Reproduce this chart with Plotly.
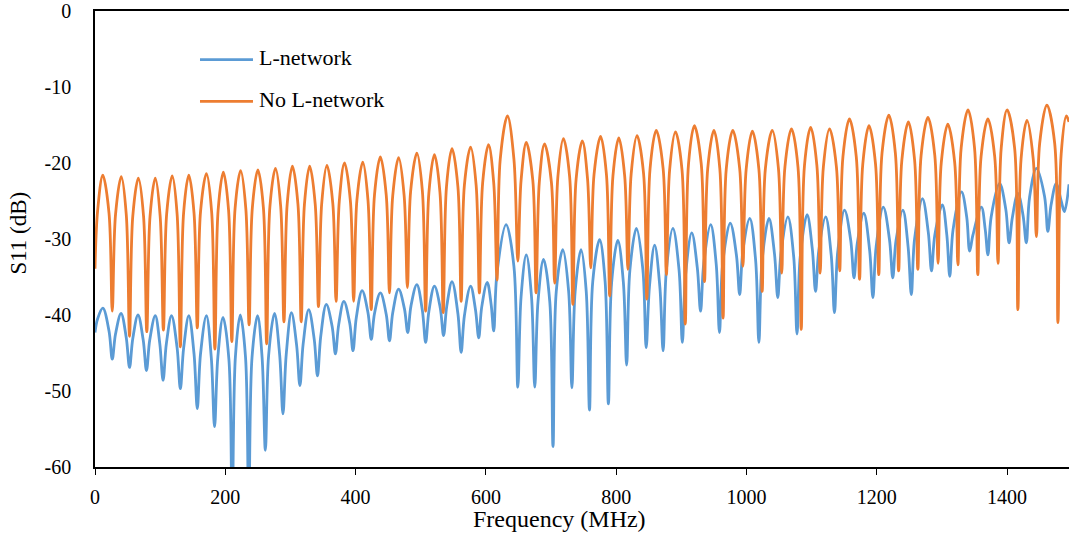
import plotly.graph_objects as go

# S11 sweep without matching network: dips, arc shoulders and peaks, one arc per line
nol_freq = [
    0, 4, 12, 21.5,
    26.5, 31.5, 40.3, 48,
    53, 58, 66.5, 74.5,
    79.5, 84.5, 92.5, 100,
    105, 110, 118.5, 126,
    131, 136, 144, 152,
    157, 162, 171, 179,
    184, 189, 197, 205,
    210, 215, 223.5, 231.5,
    236.5, 241.5, 250, 258.5,
    263.5, 268.5, 277, 285,
    290, 295, 303, 311.5,
    316.5, 321.5, 329.5, 338,
    343, 348, 356, 365,
    370, 375, 383, 392,
    397, 402, 411, 419,
    424, 429, 438, 447,
    452, 457, 466, 474.5,
    479.5, 484.5, 494, 502.5,
    507.5, 512.5, 521, 529.5,
    534.5, 539.5, 548, 557,
    562, 567, 576.5, 585,
    590, 595, 604, 612,
    617, 622, 633, 643,
    649, 654, 662, 672,
    677, 682, 690, 700.5,
    705.5, 710.5, 719, 728.5,
    733.5, 738.5, 748, 756,
    761, 766, 776, 785,
    790, 795, 804, 813,
    818, 823, 832, 842,
    847, 852, 861.5, 872,
    877, 882, 891, 901,
    906, 911, 920, 930.5,
    935.5, 940.5, 950, 959,
    964, 969, 979, 989.5,
    994.5, 999.5, 1009, 1019,
    1024, 1029, 1039.5, 1049,
    1054, 1059, 1069, 1079,
    1084, 1089, 1098.5, 1108,
    1113, 1118, 1127.5, 1138,
    1143, 1148, 1158, 1168.5,
    1173.5, 1178.5, 1188, 1198,
    1203, 1208, 1218.5, 1228.5,
    1233.5, 1238.5, 1248.5, 1258,
    1263, 1268, 1278.5, 1289,
    1294, 1299, 1309, 1319.5,
    1324.5, 1329.5, 1340, 1350,
    1355, 1360, 1370.5, 1381,
    1386, 1391, 1400, 1411.5,
    1416.5, 1421.5, 1430.5, 1440,
    1445, 1450, 1461, 1473,
    1478, 1483, 1491, 1495,
]
nol_s11 = [
    -33.9, -26.3, -21.6, -26.6,
    -39.5, -26.8, -21.8, -26.8,
    -42.8, -27.0, -22.0, -27.0,
    -42.2, -27.0, -22.0, -27.0,
    -42.0, -26.7, -21.7, -26.7,
    -44.2, -26.6, -21.6, -26.6,
    -41.7, -26.4, -21.4, -26.4,
    -44.5, -26.2, -21.2, -26.2,
    -43.5, -26.0, -21.0, -26.0,
    -41.3, -25.9, -20.9, -25.9,
    -43.8, -25.7, -20.7, -25.7,
    -40.9, -25.4, -20.4, -25.4,
    -40.9, -25.4, -20.4, -25.4,
    -38.9, -25.3, -20.3, -25.3,
    -38.2, -25.0, -20.0, -25.0,
    -38.2, -24.9, -19.9, -24.9,
    -39.3, -24.2, -19.2, -24.2,
    -37.1, -24.3, -19.3, -24.3,
    -36.4, -23.7, -18.7, -23.7,
    -39.5, -23.9, -18.9, -23.9,
    -39.7, -23.1, -18.1, -23.1,
    -38.2, -22.9, -17.9, -22.9,
    -37.1, -22.6, -17.6, -22.6,
    -35.4, -19.5, -13.8, -19.5,
    -32.9, -22.3, -17.3, -22.3,
    -37.1, -22.5, -17.5, -22.5,
    -35.8, -21.8, -16.8, -21.8,
    -38.6, -22.1, -17.1, -22.1,
    -33.8, -21.5, -16.5, -21.5,
    -37.5, -21.7, -16.7, -21.7,
    -34.0, -21.4, -16.4, -21.4,
    -37.9, -20.7, -15.7, -20.7,
    -34.7, -20.9, -15.9, -20.9,
    -41.2, -20.1, -15.1, -20.1,
    -35.6, -20.7, -15.7, -20.7,
    -40.4, -20.7, -15.7, -20.7,
    -33.6, -20.8, -15.8, -20.8,
    -36.9, -20.7, -15.7, -20.7,
    -34.5, -20.5, -15.5, -20.5,
    -41.9, -20.3, -15.3, -20.3,
    -34.5, -20.5, -15.5, -20.5,
    -34.2, -19.2, -14.2, -19.2,
    -35.3, -20.1, -15.1, -20.1,
    -34.7, -18.7, -13.7, -18.7,
    -34.2, -19.6, -14.6, -19.6,
    -34.0, -19.0, -14.0, -19.0,
    -33.2, -19.9, -14.9, -19.9,
    -33.4, -18.0, -13.0, -18.0,
    -34.7, -19.2, -14.2, -19.2,
    -33.2, -18.0, -13.0, -18.0,
    -39.3, -19.4, -14.4, -19.4,
    -29.7, -17.4, -12.4, -17.4,
    -41.0, -18.8, -13.8, -14.6,
]

# S11 sweep with the L-network
l_freq = [
    0, 4, 12, 21.5,
    26.5, 31.5, 40, 48,
    53, 58, 66, 74,
    79, 84, 92.5, 99.5,
    104.5, 109.5, 117.5, 126,
    131, 136, 144, 152,
    157, 162, 171, 178.5,
    183.5, 188.5, 196.5, 205.5,
    210.5, 215.5, 223, 231,
    236, 241, 249.5, 256.5,
    261.5, 266.5, 275.5, 283.5,
    288.5, 293.5, 301.5, 309.5,
    314.5, 319.5, 328, 336.5,
    341.5, 346.5, 355, 364,
    369, 374, 382, 391,
    396, 401, 410, 419,
    424, 429, 438, 447,
    452, 457, 466, 475,
    480, 485, 494, 502.5,
    507.5, 512.5, 521, 530,
    535, 540, 548, 557,
    562, 567, 576.5, 584,
    589, 593.5, 602, 608,
    612, 617, 631, 643,
    649, 654, 662, 670,
    675, 680, 688.5, 698,
    703, 708, 718, 727,
    732, 737, 746, 754,
    759, 764, 774.5, 783,
    788, 793, 802.5, 811,
    816, 821, 831, 841,
    846, 851, 859, 867,
    872, 877, 887, 896.5,
    901.5, 906.5, 916, 924.5,
    929.5, 934.5, 945, 953.5,
    958.5, 963.5, 975, 984.5,
    989.5, 994.5, 1005, 1014,
    1019, 1024, 1034.5, 1043,
    1048, 1053, 1063.5, 1072.5,
    1077.5, 1082.5, 1093, 1101,
    1106, 1111, 1121.5, 1130,
    1135, 1140, 1150.5, 1160,
    1165, 1170, 1180, 1189,
    1194, 1199, 1210, 1219.5,
    1224.5, 1229.5, 1240, 1248,
    1253, 1258, 1270, 1279,
    1284, 1289, 1300.5, 1307.5,
    1312, 1317, 1330, 1338,
    1342.5, 1347.5, 1360.5, 1366.5,
    1370.5, 1375.5, 1388.5, 1398,
    1403, 1408, 1416.5, 1424.5,
    1429.5, 1434.5, 1445, 1457.5,
    1462.5, 1467.5, 1475.5, 1483,
    1488, 1495,
]
l_s11 = [
    -42.3, -40.5, -39.1, -42.1,
    -45.8, -42.5, -39.8, -43.0,
    -46.9, -43.1, -40.0, -43.3,
    -47.3, -43.3, -40.1, -43.8,
    -48.6, -43.8, -40.1, -44.3,
    -49.7, -44.4, -40.1, -45.1,
    -52.3, -45.1, -40.1, -45.6,
    -54.7, -45.6, -40.3, -45.8,
    -66.0, -45.5, -40.0, -45.5,
    -66.0, -45.6, -40.1, -45.6,
    -57.8, -45.3, -39.8, -45.3,
    -53.0, -45.2, -39.7, -44.0,
    -49.3, -43.8, -39.3, -43.2,
    -48.0, -42.8, -38.6, -41.5,
    -45.1, -41.3, -38.2, -41.1,
    -44.7, -40.4, -36.8, -39.7,
    -43.2, -39.8, -37.1, -39.9,
    -43.4, -39.7, -36.6, -39.2,
    -42.3, -38.8, -36.0, -39.4,
    -43.6, -39.5, -36.2, -39.1,
    -42.7, -38.8, -35.6, -39.8,
    -44.9, -40.1, -36.2, -39.3,
    -43.0, -39.0, -35.7, -38.6,
    -42.1, -34.5, -28.1, -33.6,
    -49.5, -37.6, -32.1, -37.6,
    -49.5, -38.2, -32.7, -38.2,
    -57.3, -36.9, -31.4, -36.9,
    -49.6, -36.9, -31.4, -36.9,
    -52.5, -35.6, -30.1, -35.6,
    -51.7, -35.7, -30.2, -35.7,
    -46.6, -34.1, -28.6, -34.1,
    -44.3, -36.3, -30.8, -36.3,
    -44.7, -34.1, -28.6, -34.1,
    -43.6, -34.7, -29.2, -33.8,
    -39.5, -33.1, -28.1, -33.3,
    -42.3, -33.2, -27.9, -32.1,
    -37.3, -31.5, -27.3, -32.8,
    -43.6, -32.8, -27.3, -32.0,
    -37.7, -31.8, -27.1, -32.4,
    -42.5, -32.3, -26.8, -31.3,
    -36.9, -31.5, -27.1, -32.1,
    -39.7, -31.7, -26.2, -30.2,
    -35.1, -30.6, -26.6, -31.5,
    -37.7, -31.0, -25.8, -30.1,
    -35.1, -30.2, -26.2, -31.0,
    -37.3, -30.0, -24.7, -29.1,
    -34.2, -29.5, -25.5, -29.5,
    -34.9, -28.8, -23.8, -27.1,
    -31.6, -29.5, -25.8, -28.8,
    -32.1, -27.1, -22.7, -26.1,
    -30.5, -27.2, -24.0, -26.9,
    -30.5, -24.5, -20.7, -24.4,
    -29.0, -25.5, -22.7, -25.0,
    -26.4, -22.8,
]

x_ticks = [0, 200, 400, 600, 800, 1000, 1200, 1400]
y_ticks = [0, -10, -20, -30, -40, -50, -60]
y_tick_text = ["0", "-10", "-20", "-30", "-40", "-50", "-60"]

BLUE = "#5B9BD5"
ORANGE = "#ED7D31"
FONT = "Liberation Serif"

fig = go.Figure()
fig.add_trace(go.Scatter(
    x=l_freq, y=l_s11, mode="lines", name="L-network",
    line=dict(color=BLUE, width=2.8, shape="spline", smoothing=1.0),
    showlegend=False,
))
fig.add_trace(go.Scatter(
    x=nol_freq, y=nol_s11, mode="lines", name="No L-network",
    line=dict(color=ORANGE, width=2.8, shape="spline", smoothing=1.0),
    showlegend=False,
))

# legend drawn by hand so the key lines are as long as in the original layout
legend_rows = [("L-network", BLUE, 0.8932), ("No L-network", ORANGE, 0.8017)]
for label, color, ypos in legend_rows:
    fig.add_shape(type="line", xref="paper", yref="paper",
                  x0=0.1078, x1=0.1622, y0=ypos, y1=ypos,
                  line=dict(color=color, width=2.8))
    fig.add_annotation(text=label, xref="paper", yref="paper",
                       x=0.1663, y=ypos, xanchor="left", yanchor="middle",
                       yshift=2, showarrow=False,
                       font=dict(family=FONT, size=22, color="#000"))

fig.add_annotation(text="Frequency (MHz)", xref="paper", yref="paper",
                   x=0.4774, y=-0.113, xanchor="center", yanchor="middle",
                   showarrow=False, font=dict(family=FONT, size=24, color="#000"))
fig.add_annotation(text="S11 (dB)", xref="paper", yref="paper",
                   x=-0.079, y=0.512, xanchor="center", yanchor="middle",
                   textangle=-90, showarrow=False,
                   font=dict(family=FONT, size=23, color="#000"))

fig.update_layout(
    width=1069, height=540,
    margin=dict(l=95, r=0, t=8, b=73),
    paper_bgcolor="white", plot_bgcolor="white",
    font=dict(family=FONT, color="#000"),
    xaxis=dict(
        range=[0, 1495], tickvals=x_ticks, showgrid=False, zeroline=False,
        showline=True, linecolor="#000", linewidth=1.5, mirror=True,
        ticks="outside", ticklen=6, tickwidth=1.2, tickcolor="#000",
        tickfont=dict(family=FONT, size=20, color="#000"),
        ticklabelstandoff=5,
    ),
    yaxis=dict(
        range=[-60, 0], tickvals=y_ticks, ticktext=y_tick_text,
        showgrid=False, zeroline=False,
        showline=True, linecolor="#000", linewidth=1.5,
        ticks="", tickfont=dict(family=FONT, size=20, color="#000"),
        ticklabelstandoff=18, ticklabeloverflow="allow",
    ),
)

fig.write_html("out.html")
